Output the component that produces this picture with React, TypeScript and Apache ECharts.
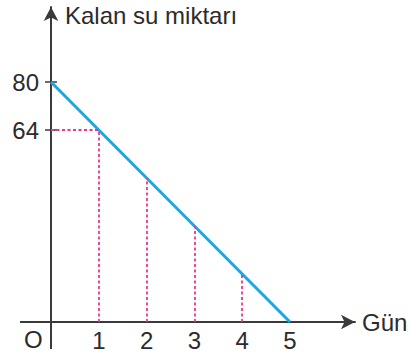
import React, { useEffect, useRef } from "react";
import * as echarts from "echarts";

const days = [0, 1, 2, 3, 4, 5];
const remaining = [80, 64, 48, 32, 16, 0];
const xTickValues = [1, 2, 3, 4, 5];
const yTickValues = [64, 80];
const guideDays = [1, 2, 3, 4];
const yTitle = "Kalan su miktarı";
const xTitle = "Gün";
const originLabel = "O";

const FONT = "Liberation Sans, Arial, Helvetica, sans-serif";
const FS = 24;
const TEXT = "#2b2b2b";
const AXIS = "#3a3a3a";
const BLUE = "#1ba8e0";
const PINK = "#ee3396";

const GRID = { left: 51, right: 57, top: 7, bottom: 36 };

export default function App() {
  const ref = useRef<HTMLDivElement>(null);
  useEffect(() => {
    if (!ref.current) return;
    const chart = echarts.init(ref.current, null, { renderer: "svg" });
    const lineData = days.map((d, i) => [d, remaining[i]]);
    const vGuides = guideDays.map((d) => {
      const v = remaining[days.indexOf(d)];
      return [{ coord: [d, 0] }, { coord: [d, v] }];
    });
    const hGuide = [{ coord: [0, remaining[1]] }, { coord: [days[1], remaining[1]] }];
    const H = 358;
    const originY = H - GRID.bottom;
    chart.setOption({
      animation: false,
      grid: { ...GRID, containLabel: false, outerBoundsMode: "none" },
      xAxis: {
        type: "value",
        min: 0,
        max: 6.36,
        name: xTitle,
        nameLocation: "end",
        nameGap: 7,
        nameTextStyle: { fontFamily: FONT, fontSize: FS, color: TEXT },
        axisLine: {
          symbol: ["none", "arrow"],
          symbolSize: [11, 14],
          lineStyle: { color: AXIS, width: 2 },
        },
        axisTick: { show: false },
        splitLine: { show: false },
        axisLabel: {
          customValues: xTickValues,
          fontFamily: FONT,
          fontSize: FS,
          color: TEXT,
          margin: 6,
        },
      },
      yAxis: [
        {
          type: "value",
          min: 0,
          max: 105,
          axisLine: {
            symbol: ["none", "arrow"],
            symbolSize: [11, 14],
            lineStyle: { color: AXIS, width: 2 },
          },
          axisTick: {
            customValues: yTickValues,
            length: 6,
            lineStyle: { color: AXIS, width: 1.5 },
          },
          splitLine: { show: false },
          axisLabel: {
            customValues: yTickValues,
            fontFamily: FONT,
            fontSize: FS,
            color: TEXT,
            margin: 12,
          },
        },
        {
          type: "value",
          position: "left",
          min: 0,
          max: 105,
          axisLine: { show: false },
          axisTick: {
            inside: true,
            customValues: yTickValues,
            length: 6,
            lineStyle: { color: AXIS, width: 1.5 },
          },
          axisLabel: { show: false },
          splitLine: { show: false },
        },
      ],
      series: [
        {
          type: "line",
          data: lineData,
          showSymbol: false,
          symbol: "none",
          z: 3,
          lineStyle: { color: BLUE, width: 3 },
          markLine: {
            silent: true,
            symbol: ["none", "none"],
            label: { show: false },
            lineStyle: { color: PINK, type: [3, 2.5], width: 1.8 },
            data: [...vGuides, hGuide],
          },
        },
      ],
      graphic: [
        {
          type: "line",
          shape: { x1: 20, y1: originY, x2: GRID.left, y2: originY },
          style: { stroke: AXIS, lineWidth: 2 },
        },
        {
          type: "line",
          shape: { x1: GRID.left, y1: originY, x2: GRID.left, y2: 349 },
          style: { stroke: AXIS, lineWidth: 2 },
        },
        {
          type: "text",
          left: 65,
          top: 3,
          style: { text: yTitle, font: `${FS}px ${FONT}`, fill: TEXT },
        },
        {
          type: "text",
          left: 24,
          top: 327,
          style: { text: originLabel, font: `${FS}px ${FONT}`, fill: TEXT },
        },
      ],
    });
    return () => chart.dispose();
  }, []);
  return <div ref={ref} style={{ width: 412, height: 358, position: "absolute", left: 0, top: 0 }} />;
}
